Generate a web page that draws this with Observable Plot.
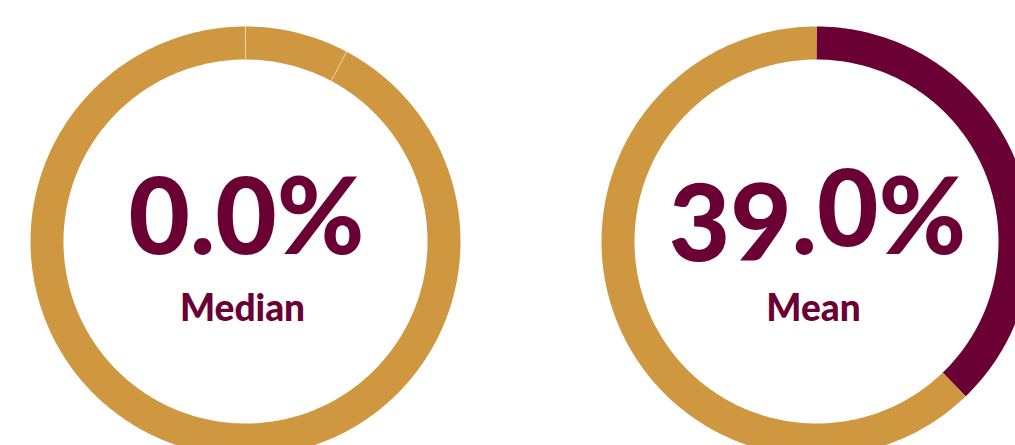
<!DOCTYPE html>
<html><head><meta charset="utf-8">
<script src="https://cdn.jsdelivr.net/npm/d3@7"></script>
<script src="https://cdn.jsdelivr.net/npm/@observablehq/plot@0.6"></script>
<style>html,body{margin:0;padding:0;background:#fff;overflow:hidden}</style>
</head><body><div id="chart"></div>
<script>
// ---- data ----
const stats = ["Median", "Mean"];
const statValues = ["0.0%", "39.0%"];
// ring segments (share of the full circle, %)
const segStat = ["Median", "Median", "Median", "Mean", "Mean"];
const segKind = ["value", "rest", "rest", "value", "rest"];
const segShare = [0.0, 7.8, 92.2, 37.8, 62.2];

// ---- layout / style ----
const W = 1015, H = 460;
const PURPLE = "#6a0034", GOLD = "#cf9840";
const center = {Median: [245, 241], Mean: [816, 241]};
const rOut = 215, rIn = 182, rMid = (rOut + rIn) / 2, ringW = rOut - rIn;
const angle = d3.scaleLinear().domain([0, 100]).range([0, 2 * Math.PI]);

// build segments with cumulative start/end
const segs = [];
const cum = {};
segShare.forEach((s, i) => {
  const st = segStat[i];
  const start = cum[st] || 0;
  cum[st] = start + s;
  segs.push({id: i, stat: st, kind: segKind[i], start, end: start + s});
});

const pos = (st, pct, r) => {
  const [cx, cy] = center[st], a = angle(pct);
  return [cx + r * Math.sin(a), cy - r * Math.cos(a)];
};

const points = [];
for (const s of segs) {
  if (s.end - s.start <= 0) continue;
  const n = Math.max(2, Math.ceil((s.end - s.start) / 0.2));
  for (let k = 0; k <= n; k++) {
    const p = s.start + (s.end - s.start) * k / n;
    const [x, y] = pos(s.stat, p, rMid);
    points.push({seg: s.id, kind: s.kind, x, y});
  }
}

// seams between adjacent gold segments
const seams = [];
for (const st of stats) {
  const list = segs.filter(s => s.stat === st && s.end > s.start);
  list.forEach((s, i) => {
    const prev = list[(i - 1 + list.length) % list.length];
    if (s.kind === "rest" && prev.kind === "rest" && prev !== s) {
      const [x1, y1] = pos(st, s.start, rIn);
      const [x2, y2] = pos(st, s.start, rOut);
      seams.push({x1, y1, x2, y2});
    }
  });
}

const labels = stats.map((st, i) => ({
  stat: st, value: statValues[i], x: center[st][0], y: center[st][1]
}));

const chart = Plot.plot({
  width: W, height: H, margin: 0,
  x: {domain: [0, W], range: [0, W], axis: null},
  y: {domain: [0, H], range: [0, H], axis: null},
  color: {domain: ["value", "rest"], range: [PURPLE, GOLD]},
  marks: [
    Plot.line(points, {x: "x", y: "y", z: "seg", stroke: "kind", strokeWidth: ringW, strokeLinecap: "butt", strokeLinejoin: "round"}),
    Plot.link(seams, {x1: "x1", y1: "y1", x2: "x2", y2: "y2", stroke: "white", strokeOpacity: 0.45, strokeWidth: 1}),
    Plot.text(labels, {x: d => d.x + 1, y: d => d.y + 12, text: "value", lineAnchor: "bottom", fontSize: 106, fontWeight: 900, fontFamily: "Lato", fill: PURPLE}),
    Plot.text(labels, {x: d => d.x - 3, y: d => d.y + 79, text: "stat", lineAnchor: "bottom", fontSize: 37, fontWeight: 900, fontFamily: "Lato", fill: PURPLE})
  ]
});

// rolling-digit look of the mean figure: shift glyph groups vertically
const shifts = [["39", 7], [".", 0], ["0", -8], ["%", 0]];
d3.select(chart).selectAll("text").each(function () {
  if (this.textContent === "39.0%") {
    const t = d3.select(this);
    t.text(null);
    let prev = 0;
    for (const [s, dy] of shifts) {
      t.append("tspan").attr("dy", dy - prev).text(s);
      prev = dy;
    }
  }
});
document.getElementById("chart").appendChild(chart);
</script>
</body></html>
